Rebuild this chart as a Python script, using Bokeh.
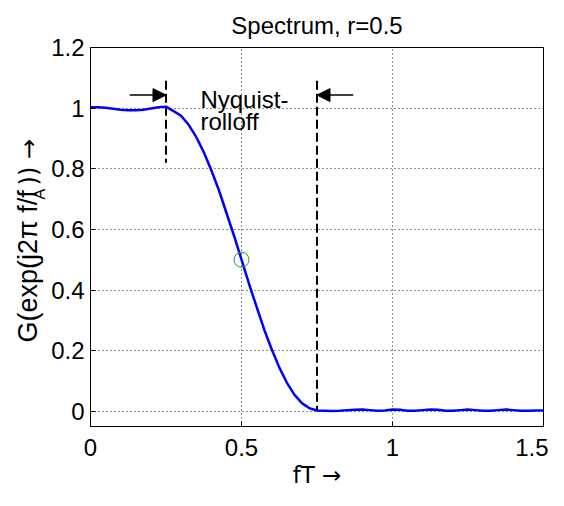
import math
from bokeh.plotting import figure
from bokeh.layouts import row
from bokeh.models import Range1d, Label, Arrow, NormalHead, FixedTicker
from bokeh.embed import file_html
from bokeh.resources import INLINE

# ---------------- data ----------------
freq = [0.0, 0.025, 0.05, 0.075, 0.1, 0.125, 0.15, 0.175, 0.2, 0.225, 0.25,
        0.275, 0.3, 0.325, 0.35, 0.375, 0.4, 0.425, 0.45, 0.475, 0.5,
        0.525, 0.55, 0.575, 0.6, 0.625, 0.65, 0.675, 0.7, 0.725, 0.75,
        0.775, 0.8, 0.825, 0.85, 0.875, 0.9, 0.925, 0.95, 0.975, 1.0,
        1.025, 1.05, 1.075, 1.1, 1.125, 1.15, 1.175, 1.2, 1.225, 1.25,
        1.275, 1.3, 1.325, 1.35, 1.375, 1.4, 1.425, 1.45, 1.475, 1.5]
gain = [1.003, 1.003, 1.001, 0.998, 0.995, 0.993, 0.993, 0.995, 0.999, 1.003, 1.005,
        0.99, 0.975, 0.945, 0.905, 0.855, 0.795, 0.73, 0.655, 0.58, 0.5,
        0.42, 0.345, 0.27, 0.205, 0.145, 0.095, 0.055, 0.027, 0.01, 0.003,
        0.002, 0.001, 0.002, 0.004, 0.005, 0.006, 0.004, 0.002, 0.003, 0.006,
        0.005, 0.002, 0.002, 0.004, 0.006, 0.005, 0.002, 0.002, 0.004, 0.006,
        0.004, 0.002, 0.002, 0.004, 0.006, 0.004, 0.002, 0.002, 0.003, 0.003]

marker_f = [0.5]
marker_g = [0.5]

limit_f = [0.25, 0.75]
limit_top = [1.09, 1.09]
limit_bottom = [0.82, 0.0]

arrow_x_start = [0.13, 0.87]
arrow_x_end = [0.25, 0.75]
arrow_y = 1.043

x_ticks = [0, 0.5, 1, 1.5]
x_tick_labels = ["0", "0.5", "1", "1.5"]
y_ticks = [0, 0.2, 0.4, 0.6, 0.8, 1.0, 1.2]
y_tick_labels = ["0", "0.2", "0.4", "0.6", "0.8", "1", "1.2"]

title_text = "Spectrum, r=0.5"
xlabel_text = "fT \u2192"
ylabel_main = "G(exp(j2\u03c0 f/f"
ylabel_sub = "A"
ylabel_end = ")) \u2192"
annot_lines = ["Nyquist-", "rolloff"]

FONT = "Liberation Sans"
FS = "24px"
H = 490
LBL_W = 48

y_range = Range1d(-0.05, 1.2)

p = figure(width=548 - LBL_W, height=H,
           x_range=Range1d(0, 1.5), y_range=y_range,
           output_backend="svg", toolbar_location=None,
           min_border_left=42, min_border_right=5,
           min_border_top=46, min_border_bottom=62)
p.background_fill_color = "white"
p.border_fill_color = "white"
p.outline_line_color = "black"

p.title.text = title_text
p.title.text_font = FONT
p.title.text_font_size = FS
p.title.text_font_style = "normal"
p.title.text_color = "black"
p.title.align = "center"
p.title.standoff = 18

for ax, ticks, labels in ((p.xaxis[0], x_ticks, x_tick_labels),
                          (p.yaxis[0], y_ticks, y_tick_labels)):
    ax.ticker = FixedTicker(ticks=ticks)
    ax.major_label_overrides = {t: l for t, l in zip(ticks, labels)}
    ax.major_tick_in = 5
    ax.major_tick_out = 0
    ax.minor_tick_line_color = None
    ax.axis_line_color = "black"
    ax.major_tick_line_color = "black"
    ax.major_label_text_font = FONT
    ax.major_label_text_font_size = FS
    ax.major_label_text_color = "black"
p.xaxis[0].major_label_standoff = 12
p.yaxis[0].major_label_standoff = 6

p.xaxis[0].axis_label = xlabel_text
p.xaxis[0].axis_label_text_font = "DejaVu Sans"
p.xaxis[0].axis_label_text_font_size = "23px"
p.xaxis[0].axis_label_text_font_style = "normal"
p.xaxis[0].axis_label_text_color = "black"
p.xaxis[0].axis_label_standoff = 3

p.xgrid.ticker = FixedTicker(ticks=[0.5, 1.0])
p.ygrid.ticker = FixedTicker(ticks=[0, 0.2, 0.4, 0.6, 0.8, 1.0])
for g in (p.xgrid[0], p.ygrid[0]):
    g.grid_line_color = "#202020"
    g.grid_line_dash = "1 3"
    g.grid_line_width = 1

p.segment(x0=limit_f, y0=limit_top, x1=limit_f, y1=limit_bottom,
          line_color="black", line_width=2, line_dash="9 4")
p.line(freq, gain, line_color="#0000ff", line_width=2.5)
p.scatter(marker_f, marker_g, marker="circle", size=15, fill_color=None,
          line_color="#2a9a2a", line_width=1)
for xs, xe in zip(arrow_x_start, arrow_x_end):
    p.add_layout(Arrow(end=NormalHead(size=13, fill_color="black", line_color="black"),
                       x_start=xs, y_start=arrow_y, x_end=xe, y_end=arrow_y,
                       line_color="black", line_width=1.5))
p.add_layout(Label(x=0.364, y=1.03, text=annot_lines[0], text_font=FONT,
                   text_font_size=FS, text_color="black", text_baseline="alphabetic"))
p.add_layout(Label(x=0.364, y=0.955, text=annot_lines[1], text_font=FONT,
                   text_font_size=FS, text_color="black", text_baseline="alphabetic"))

# y-label strip: its frame is aligned with the main frame, so it shares the y range
lbl = figure(width=LBL_W, height=H, x_range=Range1d(0, LBL_W), y_range=y_range,
             output_backend="svg", toolbar_location=None,
             x_axis_location=None, y_axis_location=None, min_border=0)
lbl.outline_line_color = None
lbl.background_fill_color = "white"
lbl.border_fill_color = "white"
lbl.grid.visible = False

lbl.add_layout(Label(x=27.5, y=0.227, text=ylabel_main, text_font=FONT, text_font_size="27px",
                     angle=math.pi / 2, text_align="left", text_baseline="alphabetic",
                     text_color="black"))
lbl.add_layout(Label(x=38.5, y=0.699, text=ylabel_sub, text_font=FONT, text_font_size="16px",
                     angle=math.pi / 2, text_align="left", text_baseline="alphabetic",
                     text_color="black"))
lbl.add_layout(Label(x=28.5, y=0.745, text=ylabel_end, text_font="DejaVu Sans", text_font_size="24px",
                     angle=math.pi / 2, text_align="left", text_baseline="alphabetic",
                     text_color="black"))

layout = row(lbl, p, spacing=0)
open("out.html", "w").write(file_html(layout, INLINE))
